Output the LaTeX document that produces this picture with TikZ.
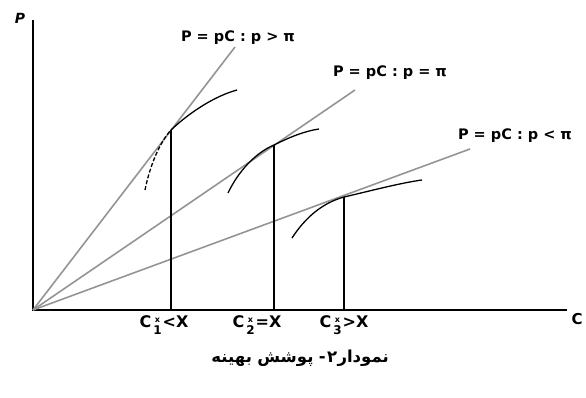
\documentclass[tikz,border=0pt]{standalone}
\usepackage{fontspec}
\setmainfont{DejaVu Sans}
\newfontfamily\fa[Script=Arabic]{DejaVu Sans}
\TeXXeTstate=1
\tikzset{
  axisline/.style={line width=1.4pt, black},
  ray/.style={line width=1.6pt, black!42},
  curveline/.style={line width=1.3pt, black},
  drop/.style={line width=1.1pt, black},
  lbl/.style={font=\fontsize{14.5}{16}\selectfont\bfseries, inner sep=0pt},
  tick/.style={font=\fontsize{16}{18}\selectfont\bfseries, inner sep=0pt},
  capword/.style={font=\fontsize{16.5}{19}\selectfont\fa\bfseries, inner sep=0pt, anchor=base east},
}
\newcommand{\cstar}[1]{C\hspace{2pt}\raisebox{-6.5pt}{\shortstack{\fontsize{8}{8}\selectfont x\\\fontsize{12}{12}\selectfont #1}}\hspace{1pt}}
\begin{document}
\begin{tikzpicture}[x=1pt,y=-1pt]
\useasboundingbox (0,0) rectangle (586,398);
% axes
\coordinate (O) at (33,310);
\coordinate (Ytop) at (33,20);
\coordinate (Xend) at (567,310);
\draw[axisline] (Ytop) -- (O) -- (Xend);
\node[font=\fontsize{14}{16}\selectfont\bfseries\itshape, inner sep=0pt] (P) at (20,18) {P};
\node[font=\fontsize{15}{17}\selectfont\bfseries, inner sep=0pt] (C) at (577,319) {C};
% rays
\coordinate (L1) at (235,47);
\coordinate (L2) at (355,90);
\coordinate (L3) at (470,149);
\draw[ray] (O) -- (L1);
\draw[ray] (O) -- (L2);
\draw[ray] (O) -- (L3);
% ray labels
\node[lbl] (r1) at (238,38) {P = pC : p > π};
\node[lbl] (r2) at (390,73) {P = pC : p = π};
\node[lbl] (r3) at (515,136) {P = pC : p < π};
% tangent points and drops
\coordinate (T1) at (171,130);
\coordinate (T2) at (274,145);
\coordinate (T3) at (344,197);
\coordinate (F1) at (171,310);
\coordinate (F2) at (274,310);
\coordinate (F3) at (344,310);
\draw[drop] (T1) -- (F1);
\draw[drop] (T2) -- (F2);
\draw[drop] (T3) -- (F3);
% curves
\coordinate (A1) at (145,190);
\coordinate (B1) at (237,90);
\coordinate (A2) at (228,193);
\coordinate (B2) at (319,129);
\coordinate (A3) at (292,238);
\coordinate (B3) at (422,180);
\draw[curveline, dash pattern=on 4pt off 2pt] (A1) .. controls (150,165) and (160,142) .. (T1);
\draw[curveline] (T1) .. controls (190,112) and (215,96) .. (B1);
\draw[curveline] (A2) .. controls (238,172) and (255,153) .. (T2) .. controls (290,137) and (305,131) .. (B2);
\draw[curveline] (A3) .. controls (305,218) and (322,203) .. (T3) .. controls (370,191) and (400,183) .. (B3);
% tick labels
\node[tick] (c1) at (164,325) {\cstar{1}<X};
\node[tick] (c2) at (257,325) {\cstar{2}=X};
\node[tick] (c3) at (344,325) {\cstar{3}>X};
% caption, right to left
\node[capword] (w1) at (389,362) {نمودار};
\node[capword] (w2) at (w1.base west) {۲};
\node[capword] (w3) at ([xshift=-1pt]w2.base west) {-};
\node[capword] (w4) at ([xshift=-5pt]w3.base west) {پوشش};
\node[capword] (w5) at ([xshift=-5pt]w4.base west) {بهینه};
\end{tikzpicture}
\end{document}
